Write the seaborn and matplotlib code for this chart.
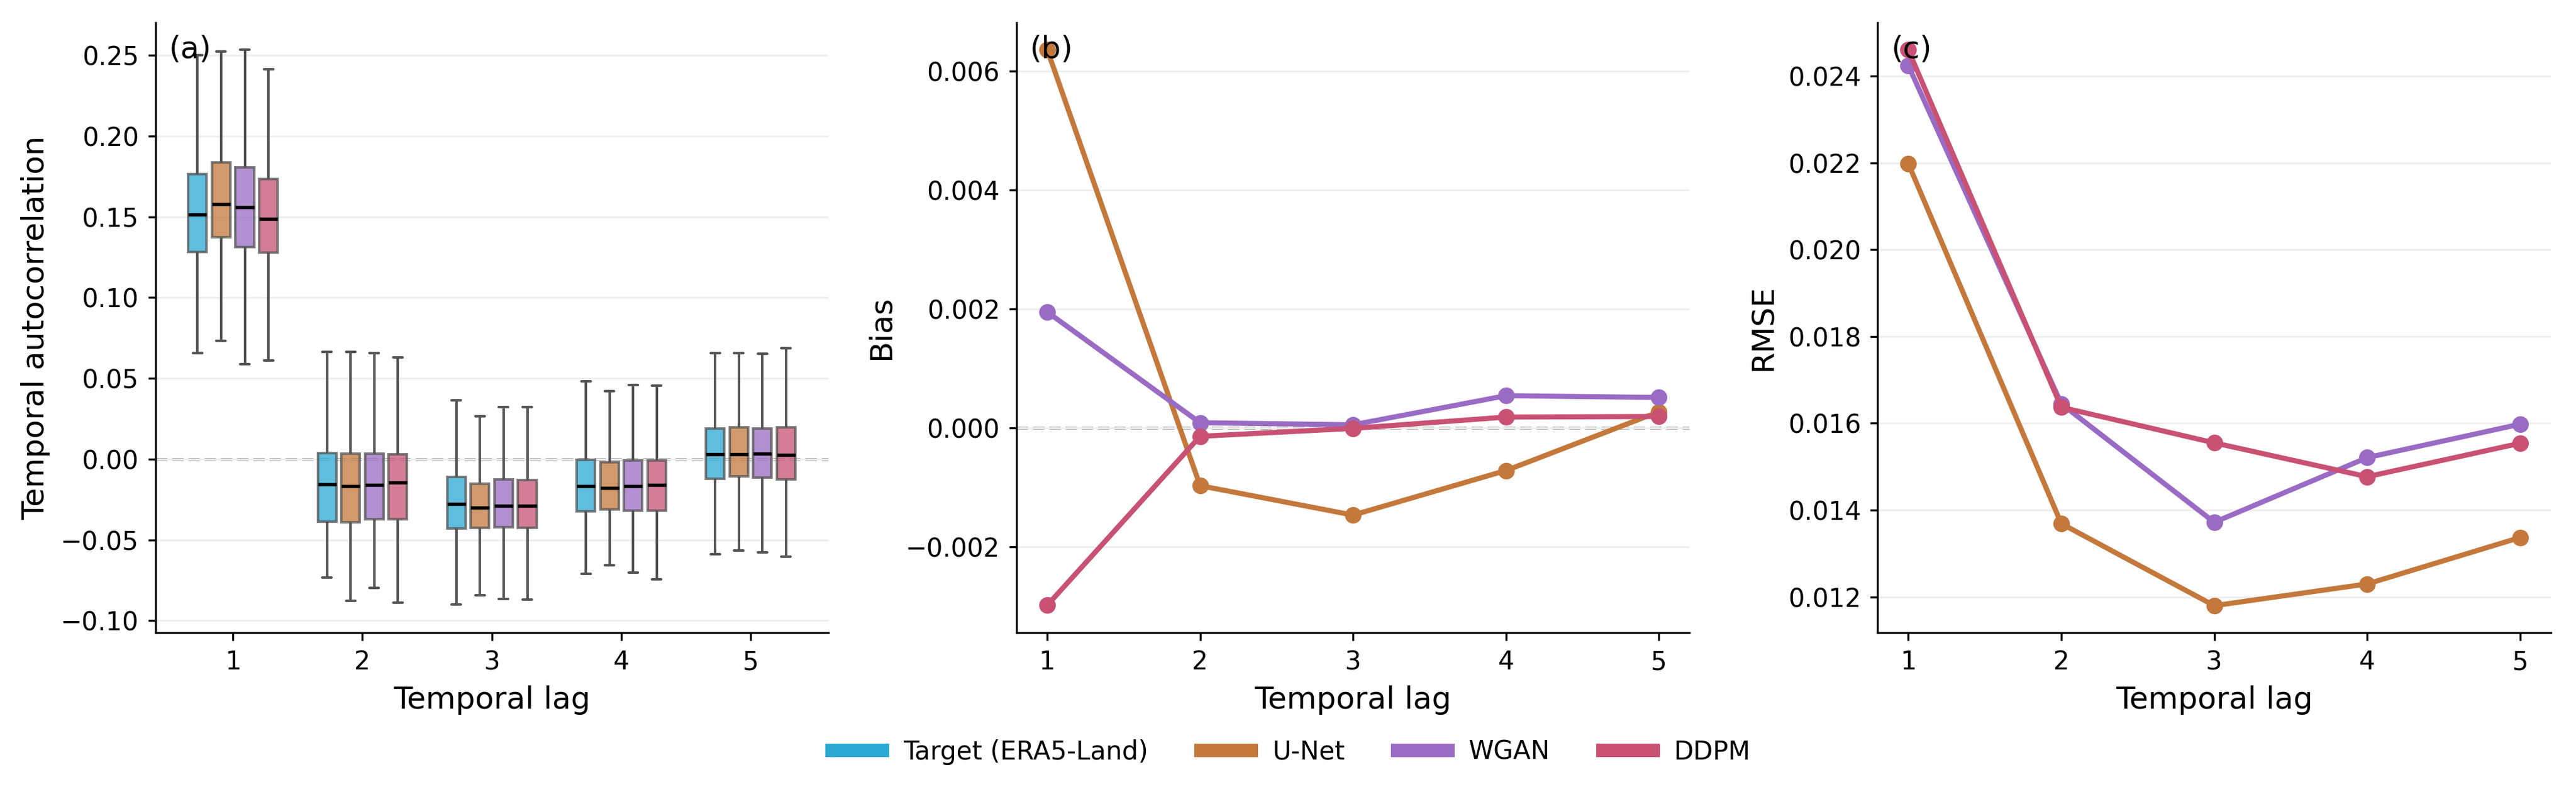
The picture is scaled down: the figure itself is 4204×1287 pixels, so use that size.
import numpy as np
import pandas as pd
import matplotlib
matplotlib.use("Agg")
import matplotlib.pyplot as plt
from matplotlib.lines import Line2D
import seaborn as sns

# -------------------------------
# Data
# -------------------------------
lags = [1, 2, 3, 4, 5]
models = ["Target (ERA5-Land)", "U-Net", "WGAN", "DDPM"]
colors = ["#2aa8d4", "#c4783b", "#9a6bc4", "#c85174"]

# box stats per lag: [whisker low, q1, median, q3, whisker high]
acf_target = [
    [0.0658, 0.1284, 0.1515, 0.1764, 0.2500],
    [-0.0733, -0.0387, -0.0156, 0.0037, 0.0664],
    [-0.0901, -0.0430, -0.0277, -0.0109, 0.0365],
    [-0.0711, -0.0324, -0.0168, -0.0003, 0.0483],
    [-0.0589, -0.0122, 0.0031, 0.0190, 0.0655],
]
acf_unet = [
    [0.0733, 0.1375, 0.1580, 0.1836, 0.2525],
    [-0.0876, -0.0390, -0.0168, 0.0034, 0.0664],
    [-0.0842, -0.0424, -0.0302, -0.0153, 0.0265],
    [-0.0658, -0.0312, -0.0178, -0.0019, 0.0421],
    [-0.0567, -0.0106, 0.0031, 0.0196, 0.0655],
]
acf_wgan = [
    [0.0589, 0.1315, 0.1559, 0.1805, 0.2534],
    [-0.0798, -0.0374, -0.0159, 0.0034, 0.0655],
    [-0.0867, -0.0421, -0.0290, -0.0125, 0.0324],
    [-0.0701, -0.0318, -0.0168, -0.0009, 0.0458],
    [-0.0577, -0.0115, 0.0034, 0.0190, 0.0651],
]
acf_ddpm = [
    [0.0611, 0.1278, 0.1487, 0.1733, 0.2413],
    [-0.0888, -0.0374, -0.0143, 0.0031, 0.0630],
    [-0.0870, -0.0424, -0.0290, -0.0131, 0.0321],
    [-0.0745, -0.0318, -0.0159, -0.0009, 0.0455],
    [-0.0605, -0.0125, 0.0028, 0.0196, 0.0686],
]

bias_unet = [0.00637, -0.000975, -0.00147, -0.00072, 0.00027]
bias_wgan = [0.00195, 0.000085, 0.00005, 0.00054, 0.00051]
bias_ddpm = [-0.00299, -0.000144, -0.00001, 0.00018, 0.00019]

rmse_unet = [0.02198, 0.01369, 0.01180, 0.01230, 0.01337]
rmse_wgan = [0.02424, 0.01645, 0.01372, 0.01521, 0.01598]
rmse_ddpm = [0.02460, 0.01637, 0.01555, 0.01477, 0.01554]

# -------------------------------
# Build long tables
# -------------------------------
rows = []
for name, stats in zip(models, [acf_target, acf_unet, acf_wgan, acf_ddpm]):
    for lag, vals in zip(lags, stats):
        for v in vals:
            rows.append({"lag": lag, "model": name, "value": v})
acf_df = pd.DataFrame(rows)

line_models = models[1:]
bias_df = pd.DataFrame({
    "lag": lags * 3,
    "model": np.repeat(line_models, len(lags)),
    "value": bias_unet + bias_wgan + bias_ddpm,
})
rmse_df = pd.DataFrame({
    "lag": lags * 3,
    "model": np.repeat(line_models, len(lags)),
    "value": rmse_unet + rmse_wgan + rmse_ddpm,
})

palette = dict(zip(models, colors))

# -------------------------------
# Plot
# -------------------------------
sns.set_theme(style="ticks", rc={
    "axes.edgecolor": "black",
    "axes.labelcolor": "black",
    "text.color": "black",
    "xtick.color": "black",
    "ytick.color": "black",
    "axes.linewidth": 0.8,
    "xtick.major.width": 0.8,
    "ytick.major.width": 0.8,
    "xtick.major.size": 3,
    "ytick.major.size": 3,
})
plt.rcParams["font.family"] = ["DejaVu Sans"]

fig, axes = plt.subplots(1, 3, figsize=(4204 / 300, 1287 / 300), dpi=300)
fig.subplots_adjust(left=0.0603, right=0.9902, bottom=0.1981, top=0.9713, wspace=0.2796)

# (a) boxplots
ax = axes[0]
sns.boxplot(
    data=acf_df, x="lag", y="value", hue="model", hue_order=models,
    palette=palette, saturation=1, whis=(0, 100), showfliers=False,
    width=0.73, gap=0.22, linewidth=1.0, linecolor="#555555",
    boxprops=dict(alpha=0.75),
    medianprops=dict(color="black", linewidth=1.3, alpha=1),
    legend=False, ax=ax,
)
ax.axhline(0, color="#b5b5b5", ls="--", lw=1.2, zorder=0.5)
ax.set_xlim(-0.6, 4.6)
ax.set_ylim(-0.1075, 0.2703)
ax.set_ylabel("Temporal autocorrelation", fontsize=12)

# (b) bias
ax = axes[1]
sns.lineplot(
    data=bias_df, x="lag", y="value", hue="model", hue_order=line_models,
    palette=palette, marker="o", markersize=6.5, linewidth=2,
    markeredgewidth=0, legend=False, ax=ax,
)
ax.axhline(0, color="#b5b5b5", ls="--", lw=1.2, zorder=0.5)
ax.set_xlim(0.8, 5.2)
ax.set_ylim(-0.00345, 0.00682)
ax.set_yticks([-0.002, 0.0, 0.002, 0.004, 0.006])
ax.set_ylabel("Bias", fontsize=12)

# (c) rmse
ax = axes[2]
sns.lineplot(
    data=rmse_df, x="lag", y="value", hue="model", hue_order=line_models,
    palette=palette, marker="o", markersize=6.5, linewidth=2,
    markeredgewidth=0, legend=False, ax=ax,
)
ax.set_xlim(0.8, 5.2)
ax.set_ylim(0.011177, 0.025229)
ax.set_yticks([0.012, 0.014, 0.016, 0.018, 0.020, 0.022, 0.024])
ax.set_ylabel("RMSE", fontsize=12)

for ax, tag in zip(axes, ["(a)", "(b)", "(c)"]):
    ax.set_xlabel("Temporal lag", fontsize=12)
    if tag != "(a)":
        ax.set_xticks(lags)
    ax.tick_params(labelsize=10)
    ax.grid(axis="y", color="#eeeeee", lw=0.7)
    ax.set_axisbelow(True)
    ax.text(0.02, 0.98, tag, transform=ax.transAxes, ha="left", va="top", fontsize=12)
    sns.despine(ax=ax)

handles = [Line2D([0], [0], color=c, lw=5.3, solid_capstyle="butt") for c in colors]
fig.legend(
    handles, models, loc="center", bbox_to_anchor=(0.5, 0.047), ncol=4,
    frameon=False, fontsize=10, handlelength=2.5, handletextpad=0.55,
    columnspacing=1.8,
)

fig.savefig("out.png", dpi=300)
